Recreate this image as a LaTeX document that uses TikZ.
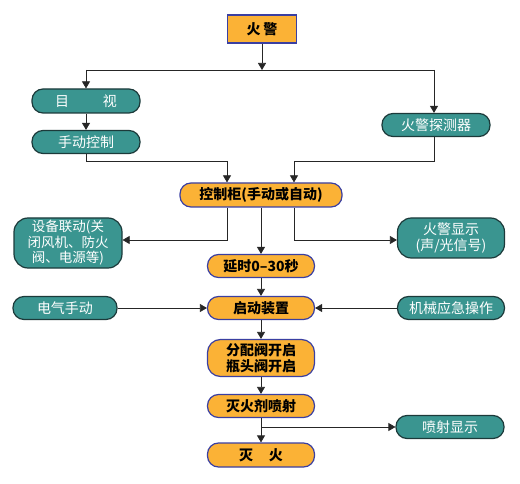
\documentclass[tikz,border=0pt]{standalone}
\usepackage{fontspec}
\setmainfont{Noto Sans CJK SC}
\usetikzlibrary{arrows.meta}
\definecolor{orfill}{HTML}{FBB236}
\definecolor{orline}{HTML}{3A3FA2}
\definecolor{tlfill}{HTML}{3A9590}
\definecolor{tlline}{HTML}{1C3A3A}
\tikzset{
  orbox/.style={draw=orline, line width=1.2pt, fill=orfill, rounded corners=11pt, inner sep=0pt, align=center, font=\fontsize{14}{16}\selectfont\bfseries, text=black},
  tlbox/.style={draw=tlline, line width=1.2pt, fill=tlfill, rounded corners=11pt, inner sep=0pt, align=center, font=\fontsize{14}{16}\selectfont, text=white},
  conn/.style={draw=black!85, line width=0.7pt},
  arr/.style={conn, -{Triangle[length=7pt,width=8pt]}}
}
\begin{document}
\begin{tikzpicture}[x=1pt,y=-1pt]
\useasboundingbox (0,0) rectangle (520,484);
% nodes
\node[orbox, rounded corners=0pt, minimum width=69pt, minimum height=28pt] (alarm) at (262,29) {火\hspace{3pt}警};
\node[tlbox, minimum width=108pt, minimum height=24pt] (look) at (86,101) {目\hspace{34pt}视};
\node[tlbox, minimum width=108pt, minimum height=23pt] (manual) at (86,142) {手动控制};
\node[tlbox, minimum width=108pt, minimum height=23pt] (detect) at (436,125) {火警探测器};
\node[orbox, minimum width=162pt, minimum height=24pt] (cab) at (261,195) {控制柜(手动或自动)};
\node[tlbox, minimum width=108pt, minimum height=50pt, rounded corners=14pt, font=\fontsize{13.5}{15.5}\selectfont] (link) at (68,243) {设备联动(关\\闭风机、防火\\阀、电源等)};
\node[tlbox, minimum width=107pt, minimum height=40pt, rounded corners=14pt, font=\fontsize{14}{16}\selectfont] (show) at (451,238) {火警显示\\(声/光信号)};
\node[orbox, minimum width=107pt, minimum height=23pt] (delay) at (261,266) {延时0--30秒};
\node[orbox, minimum width=107pt, minimum height=23pt] (start) at (261,308) {启动装置};
\node[tlbox, minimum width=104pt, minimum height=23pt] (elec) at (65,308) {电气手动};
\node[tlbox, minimum width=107pt, minimum height=23pt] (mech) at (451,308) {机械应急操作};
\node[orbox, minimum width=107pt, minimum height=37pt, rounded corners=13pt, font=\fontsize{14}{16}\selectfont\bfseries] (valve) at (261,358) {分配阀开启\\瓶头阀开启};
\node[orbox, minimum width=107pt, minimum height=23pt] (spray) at (261,406) {灭火剂喷射};
\node[tlbox, minimum width=108pt, minimum height=23pt] (sshow) at (450,427) {喷射显示};
\node[orbox, minimum width=107pt, minimum height=24pt] (out) at (261,455) {灭\hspace{16pt}火};
% coordinates
\coordinate (split) at (262,70);
\coordinate (sl) at (86,70);
\coordinate (sr) at (434,70);
\coordinate (ml) at (86,161);
\coordinate (ml2) at (227,161);
\coordinate (mr) at (434,161);
\coordinate (mr2) at (294,161);
\coordinate (cl) at (227,240);
\coordinate (cr) at (294,240);
\coordinate (sb) at (261,427);
% connectors
\draw[arr] (alarm.south) -- (split);
\draw[conn] (sl) -- (sr);
\draw[arr] (sl) -- (look.north);
\draw[arr] (sr) -- (detect.north -| sr);
\draw[arr] (look.south) -- (manual.north);
\draw[arr] (manual.south) -- (ml) -- (ml2) -- (cab.north -| ml2);
\draw[arr] (detect.south -| mr) -- (mr) -- (mr2) -- (cab.north -| mr2);
\draw[arr] (cab.south -| cl) -- (cl) -- (link.east |- cl);
\draw[arr] (cab.south -| cr) -- (cr) -- (show.west |- cr);
\draw[arr] (cab.south) -- (delay.north);
\draw[arr] (delay.south) -- (start.north);
\draw[arr] (elec.east) -- (start.west);
\draw[arr] (mech.west) -- (start.east);
\draw[arr] (start.south) -- (valve.north);
\draw[arr] (valve.south) -- (spray.north);
\draw[arr] (spray.south) -- (out.north);
\draw[arr] (sb) -- (sshow.west);
\end{tikzpicture}
\end{document}
